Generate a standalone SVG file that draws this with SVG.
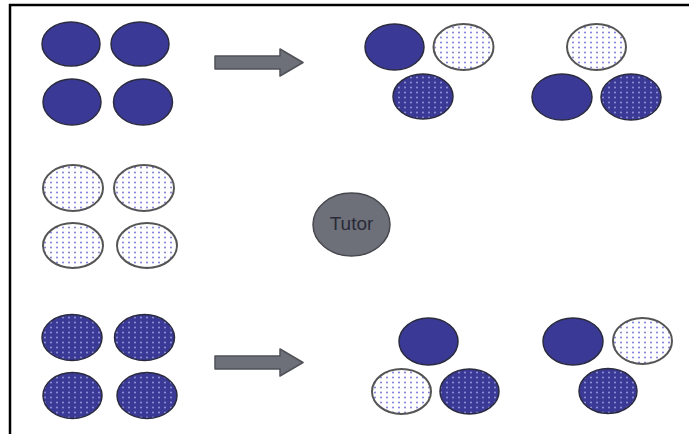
<svg xmlns="http://www.w3.org/2000/svg" width="689" height="434" viewBox="0 0 689 434">
<defs>
<pattern id="pl" patternUnits="userSpaceOnUse" width="6" height="5">
<rect width="6" height="5" fill="#ffffff"/>
<circle cx="3" cy="2.5" r="0.9" fill="#7070d4"/>
</pattern>
<pattern id="pd" patternUnits="userSpaceOnUse" width="6" height="5">
<rect width="6" height="5" fill="#3a3a96"/>
<circle cx="3" cy="2.5" r="0.9" fill="#9c9ce0"/>
</pattern>
<style>
.s{fill:#3a3a96;stroke:#2b2b40;stroke-width:1.5}
.l{fill:url(#pl);stroke:#555;stroke-width:2}
.d{fill:url(#pd);stroke:#2b2b40;stroke-width:1.5}
.ar{fill:#6d7078;stroke:#505258;stroke-width:1.5;stroke-linejoin:round}
.fr{stroke:#000;stroke-width:2.5;fill:none}
</style>
</defs>
<rect width="689" height="434" fill="#fff"/>
<path class="fr" d="M10,434 V5 H689"/>
<g id="connectors">
<path class="ar" d="M215,56 H280 V49 L303,62.5 L280,76 V69 H215 Z"/>
<path class="ar" d="M215,356 H280 V349 L303,362.5 L280,376 V369 H215 Z"/>
</g>
<g id="group-solid">
<ellipse class="s" cx="71" cy="44" rx="29" ry="22"/>
<ellipse class="s" cx="140" cy="44" rx="29" ry="22"/>
<ellipse class="s" cx="72" cy="102" rx="29" ry="23"/>
<ellipse class="s" cx="143" cy="102" rx="29.5" ry="23"/>
</g>
<g id="group-light">
<ellipse class="l" cx="73" cy="188" rx="30" ry="23"/>
<ellipse class="l" cx="144" cy="188" rx="30" ry="23"/>
<ellipse class="l" cx="73" cy="245.5" rx="30" ry="22.5"/>
<ellipse class="l" cx="147" cy="245.5" rx="30" ry="22.5"/>
</g>
<g id="group-dark">
<ellipse class="d" cx="72" cy="337.5" rx="30" ry="23"/>
<ellipse class="d" cx="144.5" cy="337.5" rx="30" ry="23"/>
<ellipse class="d" cx="72.5" cy="395.5" rx="29.5" ry="23"/>
<ellipse class="d" cx="147" cy="395.5" rx="30" ry="23"/>
</g>
<g id="tutor">
<ellipse cx="351.5" cy="224.5" rx="38.5" ry="31.5" fill="#6d7078" stroke="#46484e" stroke-width="1.5"/>
<text x="351.5" y="230" text-anchor="middle" font-family="Liberation Sans, Arial, sans-serif" font-size="19" fill="#2a2a38">Tutor</text>
</g>
<g id="mixed-top-1">
<ellipse class="s" cx="394.5" cy="47" rx="29.5" ry="23"/>
<ellipse class="l" cx="463.5" cy="47" rx="30" ry="23"/>
<ellipse class="d" cx="423" cy="96.5" rx="30" ry="22.5"/>
</g>
<g id="mixed-top-2">
<ellipse class="l" cx="596.5" cy="47" rx="29.5" ry="23"/>
<ellipse class="s" cx="562" cy="97" rx="30" ry="23"/>
<ellipse class="d" cx="631" cy="97" rx="30" ry="23"/>
</g>
<g id="mixed-bottom-1">
<ellipse class="s" cx="428.5" cy="341.5" rx="29.5" ry="23.5"/>
<ellipse class="l" cx="401.5" cy="391.5" rx="29.5" ry="22.5"/>
<ellipse class="d" cx="469.5" cy="391.5" rx="29.5" ry="22.5"/>
</g>
<g id="mixed-bottom-2">
<ellipse class="s" cx="573" cy="341.5" rx="30" ry="23.5"/>
<ellipse class="l" cx="642.5" cy="341" rx="29.5" ry="23"/>
<ellipse class="d" cx="608" cy="391" rx="29" ry="22.5"/>
</g>
</svg>
